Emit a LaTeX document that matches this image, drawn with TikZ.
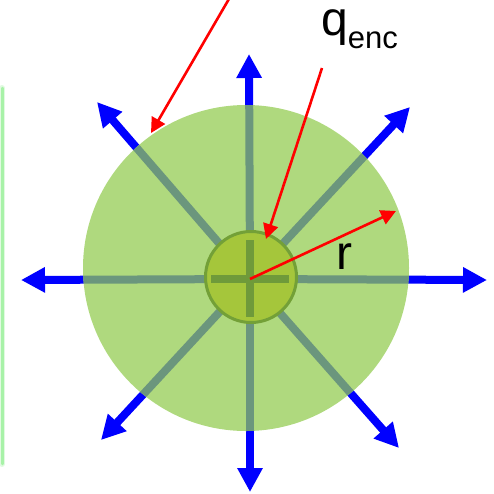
\documentclass[tikz,border=0pt]{standalone}
\usepackage{fontspec}
\setmainfont{Liberation Sans}
\usetikzlibrary{arrows.meta}
\definecolor{bigfill}{HTML}{AFD97E}
\definecolor{spoke}{HTML}{6B967D}
\definecolor{smallfill}{HTML}{A5C63B}
\definecolor{smallborder}{HTML}{73A037}
\definecolor{crosscol}{HTML}{6F9A3A}
\definecolor{glow}{HTML}{A8F2A8}
\tikzset{
  fieldarrow/.style={draw=blue, line width=8pt, -{Triangle[length=24pt,width=24pt]}},
  spokeline/.style={draw=spoke, line width=8pt},
  redarrow/.style={draw=red, line width=2.6pt, -{Triangle[length=15pt,width=15pt]}},
  lbl/.style={inner sep=0pt, font=\fontsize{48}{50}\selectfont}
}
\begin{document}
\begin{tikzpicture}[x=1pt,y=-1pt]
\useasboundingbox (0,0) rectangle (494,493);
% left glow edge
\draw[glow, line width=6pt, opacity=0.35, line cap=round] (2,88) -- (2,464);
\draw[glow, line width=2.5pt, line cap=round] (2.5,88) -- (2.5,464);
% centre and arrow tips
\coordinate (c) at (250,279);
\coordinate (tU) at (249,54);
\coordinate (tD) at (250,492);
\coordinate (tL) at (21,280);
\coordinate (tR) at (487,280);
\coordinate (tUL) at (97,102);
\coordinate (tUR) at (410,107);
\coordinate (tDL) at (101,440);
\coordinate (tDR) at (399,448);
% blue field arrows
\foreach \t in {tU,tD,tL,tR,tUL,tUR,tDL,tDR}
  \draw[fieldarrow] (c) -- (\t);
% big sphere
\node[circle, fill=bigfill, minimum size=326pt, inner sep=0pt] (big) at (246,268) {};
\begin{scope}
  \clip (246,268) circle (163pt);
  \foreach \t in {tU,tD,tL,tR,tUL,tUR,tDL,tDR}
    \draw[spokeline] (c) -- (\t);
\end{scope}
% small charge
\node[circle, fill=smallfill, draw=smallborder, line width=3pt, minimum size=91pt, inner sep=0pt] (small) at (251,277) {};
\draw[crosscol, line width=8pt] (250,240) -- (250,317);
\draw[crosscol, line width=8pt] (211,279) -- (289,279);
% labels
\node[lbl, anchor=base west] (q) at (321,35) {q\raisebox{-13pt}{\fontsize{31}{31}\selectfont enc}};
\node[lbl, anchor=base west] (r) at (336,269) {r};
% red arrows
\coordinate (topstart) at (233,-8);
\coordinate (tipA) at (151,133);
\coordinate (qstart) at (322,68);
\coordinate (tipQ) at (266,239);
\coordinate (tipR) at (396,211);
\draw[redarrow] (topstart) -- (tipA);
\draw[redarrow] (qstart) -- (tipQ);
\draw[redarrow] (c) -- (tipR);
\end{tikzpicture}
\end{document}
